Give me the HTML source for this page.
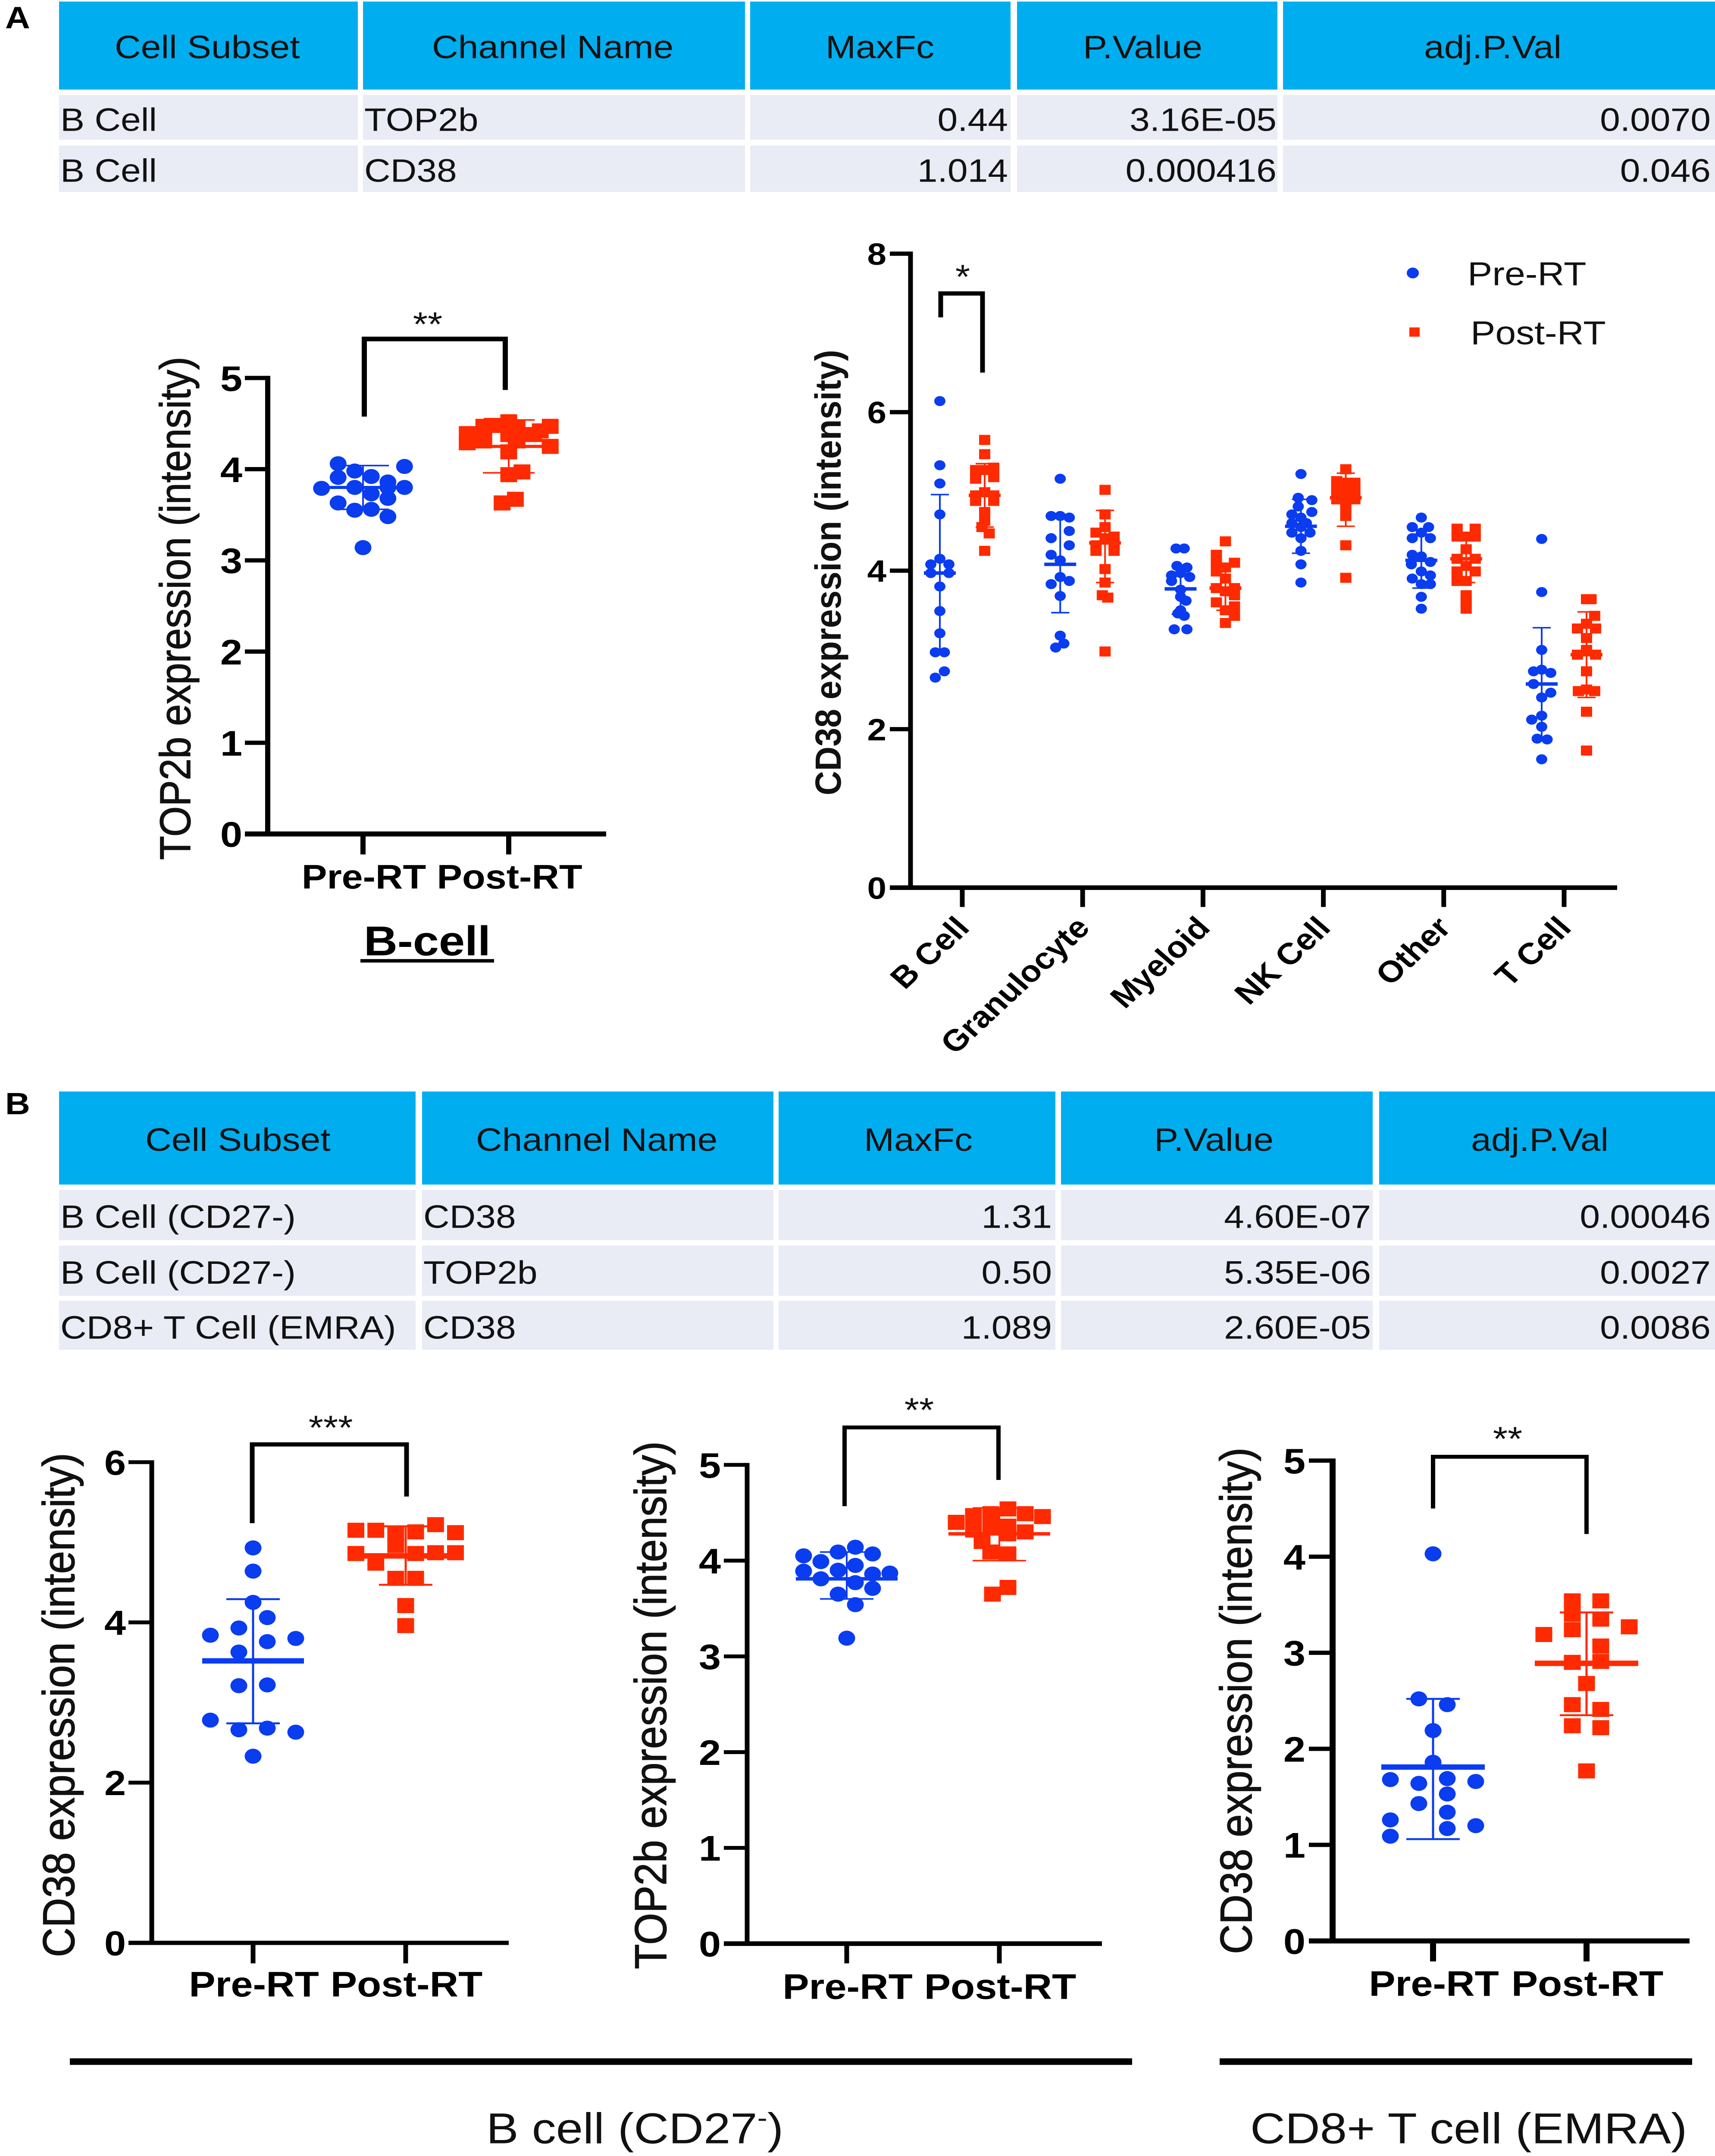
<!DOCTYPE html>
<html lang="en">
<head>
<meta charset="utf-8">
<title>CD38 and TOP2b expression before and after RT</title>
<style>
html,body{margin:0;padding:0;background:#fff;width:100%;height:100%;overflow:hidden;}
svg{display:block;position:fixed;left:0;top:0;width:100vw;height:100vh;overflow:hidden;font-family:"Liberation Sans",Arial,sans-serif;}
.hd{fill:#00aeef;}
.rw{fill:#e9ebf5;}
.tt{font-size:84px;fill:#111;}
.mid{text-anchor:middle;}
.end{text-anchor:end;}
.ytitle{font-size:100px;fill:#111;stroke:#111;stroke-width:1.5px;}
.star{font-size:88px;fill:#111;text-anchor:middle;}
.br{fill:none;stroke:#000;stroke-linejoin:miter;}
</style>
</head>
<body>
<svg id="figure" xmlns="http://www.w3.org/2000/svg" viewBox="0 0 3978 5584" preserveAspectRatio="none">
<rect width="3978" height="5584" fill="#fff"/>

<text x="12" y="73" font-size="80" font-weight="700">A</text>
<text x="12" y="2886" font-size="80" font-weight="700">B</text>

<g>
<g>
<rect class="hd" x="137" y="4" width="693" height="228"/><rect class="hd" x="842" y="4" width="886" height="228"/><rect class="hd" x="1740" y="4" width="604" height="228"/><rect class="hd" x="2359" y="4" width="604" height="228"/><rect class="hd" x="2976" y="4" width="1002" height="228"/>
<text class="tt" x="266" y="151">Cell Subset</text><text class="tt" x="1002" y="151">Channel Name</text><text class="tt" x="1915" y="151">MaxFc</text><text class="tt" x="2512" y="151">P.Value</text><text class="tt" x="3303" y="151">adj.P.Val</text>
</g>
<g>
<rect class="rw" x="137" y="246" width="693" height="116"/><rect class="rw" x="842" y="246" width="886" height="116"/><rect class="rw" x="1740" y="246" width="604" height="116"/><rect class="rw" x="2359" y="246" width="604" height="116"/><rect class="rw" x="2976" y="246" width="1002" height="116"/>
<text class="tt" x="140" y="339">B Cell</text><text class="tt" x="845" y="339">TOP2b</text><text class="tt end" x="2338" y="339">0.44</text><text class="tt end" x="2961" y="339">3.16E-05</text><text class="tt end" x="3968" y="339">0.0070</text>
</g>
<g>
<rect class="rw" x="137" y="377" width="693" height="120"/><rect class="rw" x="842" y="377" width="886" height="120"/><rect class="rw" x="1740" y="377" width="604" height="120"/><rect class="rw" x="2359" y="377" width="604" height="120"/><rect class="rw" x="2976" y="377" width="1002" height="120"/>
<text class="tt" x="140" y="471">B Cell</text><text class="tt" x="845" y="471">CD38</text><text class="tt end" x="2338" y="471">1.014</text><text class="tt end" x="2961" y="471">0.000416</text><text class="tt end" x="3968" y="471">0.046</text>
</g>
</g>

<g>
<g>
<rect class="hd" x="137" y="2827" width="827" height="241"/><rect class="hd" x="979" y="2827" width="815" height="241"/><rect class="hd" x="1806" y="2827" width="642" height="241"/><rect class="hd" x="2461" y="2827" width="723" height="241"/><rect class="hd" x="3199" y="2827" width="779" height="241"/>
<text class="tt" x="337" y="2981">Cell Subset</text><text class="tt" x="1104" y="2981">Channel Name</text><text class="tt" x="2004" y="2981">MaxFc</text><text class="tt" x="2677" y="2981">P.Value</text><text class="tt" x="3412" y="2981">adj.P.Val</text>
</g>
<g>
<rect class="rw" x="137" y="3082" width="827" height="130"/><rect class="rw" x="979" y="3082" width="815" height="130"/><rect class="rw" x="1806" y="3082" width="642" height="130"/><rect class="rw" x="2461" y="3082" width="723" height="130"/><rect class="rw" x="3199" y="3082" width="779" height="130"/>
<text class="tt" x="140" y="3180">B Cell (CD27-)</text><text class="tt" x="982" y="3180">CD38</text><text class="tt end" x="2440" y="3180">1.31</text><text class="tt end" x="3180" y="3180">4.60E-07</text><text class="tt end" x="3968" y="3180">0.00046</text>
</g>
<g>
<rect class="rw" x="137" y="3226" width="827" height="130"/><rect class="rw" x="979" y="3226" width="815" height="130"/><rect class="rw" x="1806" y="3226" width="642" height="130"/><rect class="rw" x="2461" y="3226" width="723" height="130"/><rect class="rw" x="3199" y="3226" width="779" height="130"/>
<text class="tt" x="140" y="3325">B Cell (CD27-)</text><text class="tt" x="982" y="3325">TOP2b</text><text class="tt end" x="2440" y="3325">0.50</text><text class="tt end" x="3180" y="3325">5.35E-06</text><text class="tt end" x="3968" y="3325">0.0027</text>
</g>
<g>
<rect class="rw" x="137" y="3369" width="827" height="127"/><rect class="rw" x="979" y="3369" width="815" height="127"/><rect class="rw" x="1806" y="3369" width="642" height="127"/><rect class="rw" x="2461" y="3369" width="723" height="127"/><rect class="rw" x="3199" y="3369" width="779" height="127"/>
<text class="tt" x="140" y="3467">CD8+ T Cell (EMRA)</text><text class="tt" x="982" y="3467">CD38</text><text class="tt end" x="2440" y="3467">1.089</text><text class="tt end" x="3180" y="3467">2.60E-05</text><text class="tt end" x="3968" y="3467">0.0086</text>
</g>
</g>

<text class="ytitle" transform="translate(441,2227) rotate(-90)" textLength="1303" lengthAdjust="spacingAndGlyphs">TOP2b expression (intensity)</text>
<path class="br" stroke-width="12" d="M845 1079V878H1172V1010"/>
<text class="star" x="992" y="870">**</text>
<text x="991" y="2474" font-size="108" font-weight="700" text-anchor="middle">B-cell</text>
<rect x="836" y="2484" width="310" height="9" fill="#000"/>

<text class="ytitle" style="font-size:84px;font-weight:700;stroke-width:0" transform="translate(1950,2060) rotate(-90)" textLength="1154" lengthAdjust="spacingAndGlyphs">CD38 expression (intensity)</text>
<path class="br" stroke-width="11" d="M2182 822V760H2279V965"/>
<text class="star" x="2233" y="747">*</text>
<g>
<circle cx="3277" cy="707" r="14" fill="#0a3cf0"/>
<text x="3404" y="739" font-size="86" fill="#111">Pre-RT</text>
<rect x="3269" y="848" width="24" height="24" fill="#ff2a00"/>
<text x="3411" y="892" font-size="86" fill="#111">Post-RT</text>
</g>

<text class="ytitle" style="font-size:104px" transform="translate(172,5069) rotate(-90)" textLength="1306" lengthAdjust="spacingAndGlyphs">CD38 expression (intensity)</text>
<path class="br" stroke-width="11" d="M585 3945V3741H943V3876"/>
<text class="star" x="767" y="3728">***</text>

<text class="ytitle" style="font-size:104px" transform="translate(1545,5100) rotate(-90)" textLength="1367" lengthAdjust="spacingAndGlyphs">TOP2b expression (intensity)</text>
<path class="br" stroke-width="10" d="M1959 3901V3697H2316V3833"/>
<text class="star" x="2132" y="3682">**</text>

<text class="ytitle" style="font-size:104px" transform="translate(2903,5061) rotate(-90)" textLength="1312" lengthAdjust="spacingAndGlyphs">CD38 expression (intensity)</text>
<path class="br" stroke-width="10" d="M3324 3907V3773H3680V3973"/>
<text class="star" x="3497" y="3757">**</text>

<rect x="162" y="5331" width="2464" height="17" fill="#000"/>
<rect x="2829" y="5331" width="1096" height="17" fill="#000"/>
<text x="1128" y="5551" font-size="112" fill="#111">B cell (CD27<tspan dy="-42" font-size="70">-</tspan><tspan dy="42">)</tspan></text>
<text x="2900" y="5551" font-size="112" fill="#111">CD8+ T cell (EMRA)</text>

<g id="charts"></g>
</svg>

<script>
/* ---------- Shared chart labels ---------- */
const prePostLabels = ['Pre-RT', 'Post-RT'];

/* ---------- Panel A, B-cell TOP2b ---------- */
const a1TickLabels = ['0', '1', '2', '3', '4', '5'];
const a1PreValues = [4.06, 3.98, 4.03, 3.91, 3.92, 3.86, 3.79, 3.80, 3.80, 3.80, 3.73, 3.68, 3.63, 3.55, 3.56, 3.48, 3.14];
const a1PreJitter = [-1.5, -0.5, 2.5, -1.5, 0.5, 1.5, -2.5, -0.5, 1.5, 2.5, 0.5, 1.5, -1.5, -0.5, 0.5, 1.5, 0];
const a1PreStats = [3.80, 3.56, 4.04];
const a1PostValues = [4.39, 4.29, 4.47, 4.31, 4.48, 4.52, 4.38, 4.19, 4.46, 4.31, 4.38, 4.47, 4.42, 3.94, 3.97, 3.63, 3.67, 4.25];
const a1PostJitter = [-2.5, -2.5, -1.5, -1.5, -1, 0, 0, 0, 0.5, 0.5, 1.5, 2.5, 1.9, 0, 0.8, -0.4, 0.4, 2.5];
const a1PostStats = [4.25, 3.96, 4.54];

/* ---------- Panel A, CD38 per cell type ---------- */
const a2Categories = ['B Cell', 'Granulocyte', 'Myeloid', 'NK Cell', 'Other', 'T Cell'];
const a2TickLabels = ['0', '2', '4', '6', '8'];

const a2BCellPre = [6.14, 5.33, 5.10, 4.71, 4.15, 4.08, 4.08, 3.97, 3.97, 3.80, 3.49, 3.21, 2.97, 2.97, 2.73, 2.65];
const a2BCellPreJitter = [0, 0, 0, 0, 0, -1, 1, -1, 1, 0, 0, 0, -0.5, 0.5, 0.5, -0.5];
const a2BCellPost = [5.65, 5.47, 5.30, 5.27, 5.27, 5.18, 5.16, 4.99, 4.95, 4.95, 4.88, 4.88, 4.74, 4.63, 4.55, 4.47, 4.25];
const a2BCellPostJitter = [0, 0, 1, -1, 0, 1, -1, 0, -1, 1, -1, 1, 0, 0, -0.3, 0.5, 0];

const a2GranPre = [5.16, 4.69, 4.69, 4.67, 4.50, 4.41, 4.32, 4.20, 4.13, 3.92, 3.83, 3.87, 3.68, 3.18, 3.08, 3.03];
const a2GranPreJitter = [0, -1, 0, 1, 1, -1, 1, -1, 0, 0, -1, 1, 0, 0, 0.4, -0.5];
const a2GranPost = [5.02, 4.71, 4.55, 4.48, 4.43, 4.41, 4.32, 4.32, 4.25, 4.25, 4.02, 3.85, 3.69, 3.66, 2.98];
const a2GranPostJitter = [0, 0, 0, -1, 1, 0, -1, 1, -1, 1, 0, 0, -0.3, 0.3, 0];

const a2MyeloidPre = [4.28, 4.28, 4.06, 4.04, 3.97, 3.94, 3.92, 3.87, 3.76, 3.67, 3.62, 3.50, 3.46, 3.43, 3.26, 3.26];
const a2MyeloidPreJitter = [-0.5, 0.4, -0.4, 0.7, 0, -1, 1, -1, 0, 0, 0.6, 0, -0.3, 0.4, -0.7, 0.7];
const a2MyeloidPost = [4.37, 4.20, 4.11, 4.10, 4.04, 3.99, 3.90, 3.78, 3.78, 3.74, 3.69, 3.60, 3.55, 3.50, 3.43, 3.34];
const a2MyeloidPostJitter = [0, -1, -1, 1, 0, -1, 0, -1, 1, 0, 1, -1, 1, 0, 1, 0];

const a2NkPre = [5.22, 4.92, 4.89, 4.81, 4.74, 4.71, 4.67, 4.60, 4.60, 4.55, 4.48, 4.48, 4.41, 4.25, 4.08, 3.85];
const a2NkPreJitter = [0, -0.3, 1.2, -0.3, 1.2, -1, 0, -1, 0.6, 0, -1, 1, 0, 0, 0, 0];
const a2NkPost = [5.28, 5.13, 5.11, 5.11, 5.02, 5.02, 5.02, 4.95, 4.95, 4.90, 4.90, 4.83, 4.78, 4.69, 4.32, 3.91];
const a2NkPostJitter = [0, -1, 1, 0, -1, 1, 0, 0, 1, -1, 1, 0, 0, 0, 0, 0];

const a2OtherPre = [4.67, 4.55, 4.55, 4.48, 4.41, 4.41, 4.20, 4.18, 4.11, 4.08, 3.99, 3.94, 3.90, 3.83, 3.83, 3.67, 3.52];
const a2OtherPreJitter = [0, -1, 0.8, 0, -1, 1, -1, 0, 1, -1.1, 0, 1, -1, 0, 1, 0, 0];
const a2OtherPost = [4.53, 4.53, 4.43, 4.43, 4.43, 4.27, 4.15, 4.15, 4.06, 3.99, 3.99, 3.87, 3.87, 3.69, 3.60, 3.52];
const a2OtherPostJitter = [-1, 1, -1, 1, 0, 0, -1, 1, 0, -1, 1, 0, -1, 0, 0, 0];

const a2TCellPre = [4.40, 3.73, 3.00, 2.73, 2.75, 2.71, 2.57, 2.46, 2.40, 2.17, 2.12, 2.03, 1.88, 1.87, 1.62];
const a2TCellPreJitter = [0, 0, 0, -0.9, 0, 1, -0.9, 1, 0, 0, -1.1, 0, -0.5, 0.6, 0];
const a2TCellPost = [3.64, 3.64, 3.43, 3.33, 3.27, 3.27, 3.15, 3.00, 2.94, 2.94, 2.73, 2.50, 2.48, 2.48, 2.22, 1.73];
const a2TCellPostJitter = [0, 0.5, 0.9, 0, -1, 1, 0, 0, 1, -1, 0, 0, -0.9, 0.9, 0, 0];

const a2PreMeans = [3.97, 4.08, 3.77, 4.56, 4.13, 2.57];
const a2PreLows = [2.98, 3.47, 3.45, 4.22, 3.78, 1.87];
const a2PreHighs = [4.96, 4.69, 4.07, 4.90, 4.46, 3.28];
const a2PostMeans = [4.95, 4.35, 3.78, 4.92, 4.15, 2.94];
const a2PostLows = [4.55, 3.85, 3.50, 4.56, 3.85, 2.40];
const a2PostHighs = [5.35, 4.76, 4.05, 5.23, 4.45, 3.48];

/* ---------- Panel B, CD27- B cell CD38 ---------- */
const b1TickLabels = ['0', '2', '4', '6'];
const b1PreValues = [4.93, 4.64, 4.25, 4.06, 3.93, 3.84, 3.80, 3.76, 3.63, 3.21, 3.22, 2.78, 2.66, 2.68, 2.63, 2.33];
const b1PreJitter = [0, 0, 0, 1, -1, -3, 3, 1, -1, -1, 1, -3, -1, 1, 3, 0];
const b1PreStats = [3.52, 2.74, 4.29];
const b1PostValues = [5.15, 5.15, 5.11, 5.13, 5.22, 5.12, 4.86, 4.96, 4.86, 4.87, 4.87, 4.74, 4.55, 4.55, 4.21, 3.96];
const b1PostJitter = [-3.5, -2.1, -0.7, 0.7, 2.1, 3.5, -3.5, -0.7, 0.7, 2.1, 3.5, -2.1, -0.7, 0.7, 0, 0];
const b1PostStats = [4.83, 4.47, 5.20];

/* ---------- Panel B, CD27- B cell TOP2b ---------- */
const b2TickLabels = ['0', '1', '2', '3', '4', '5'];
const b2PreValues = [4.05, 3.99, 4.09, 4.14, 4.07, 3.95, 3.89, 3.90, 3.86, 3.87, 3.81, 3.77, 3.71, 3.65, 3.54, 3.19];
const b2PreJitter = [-2.5, -1.5, -0.5, 0.5, 1.5, 0.5, -2.5, -0.5, 1.5, 2.5, -1.5, 0.5, 1.5, -0.5, 0.5, 0];
const b2PreStats = [3.81, 3.60, 4.09];
const b2PostValues = [4.40, 4.47, 4.32, 4.49, 4.34, 4.54, 4.36, 4.49, 4.30, 4.46, 4.20, 4.09, 4.07, 4.28, 3.72, 3.65];
const b2PostJitter = [-2.5, -1.5, -1.5, -0.5, -0.5, 0.5, 0.5, 1.5, 1.5, 2.5, -1, -0.5, 0.5, 0.5, 0.5, -0.4];
const b2PostStats = [4.28, 4.00, 4.55];

/* ---------- Panel B, CD8+ T cell EMRA CD38 ---------- */
const b3TickLabels = ['0', '1', '2', '3', '4', '5'];
const b3PreValues = [4.03, 2.52, 2.46, 2.19, 1.86, 1.68, 1.64, 1.69, 1.66, 1.53, 1.43, 1.34, 1.26, 1.17, 1.20, 1.09];
const b3PreJitter = [0, -1, 1, 0, 0, -3, -1, 1, 3, 1, -1, 1, -3, 1, 3, -3];
const b3PreStats = [1.81, 1.06, 2.52];
const b3PostValues = [3.54, 3.54, 3.40, 3.24, 3.35, 3.19, 3.27, 3.07, 2.91, 2.90, 2.68, 2.46, 2.41, 2.24, 2.22, 1.77];
const b3PostJitter = [-1, 1, -1, -1, 1, -3, 3, 1, 1, -1, 0, -1, 1, -1, 1, 0];
const b3PostStats = [2.89, 2.35, 3.42];

/* ---------- Drawing helpers ---------- */
const NS = 'http://www.w3.org/2000/svg';
const BLUE = '#0a3cf0';
const RED = '#ff2a00';
const chartsRoot = document.getElementById('charts');

function make(tag, attrs, parent) {
  const node = document.createElementNS(NS, tag);
  for (const key in attrs) node.setAttribute(key, attrs[key]);
  parent.appendChild(node);
  return node;
}

function yScale(c) {
  return function (v) { return c.y0 - (v / c.yMax) * (c.y0 - c.yTop); };
}

function xBand(c) {
  return function (i) { return c.x0 + i * c.dx; };
}

function drawSeries(parent, name, color, isSquare, values, jitter, stats, cx, y, s) {
  const g = make('g', {}, parent);
  
  
  values.forEach(function (v, i) {
    const px = cx + jitter[i] * s.step;
    const py = y(v);
    if (isSquare) {
      const mark = make('rect', { x: px - s.size / 2, y: py - s.size / 2, width: s.size, height: s.size, fill: color }, g);
      
      
    } else {
      const mark = make('circle', { cx: px, cy: py, r: s.size / 2, fill: color }, g);
      
      
    }
  });
  const mean = stats[0], low = stats[1], high = stats[2];
  const stem = make('line', { x1: cx, x2: cx, y1: y(low), y2: y(high), stroke: color, 'stroke-width': s.thin }, g);
  
  
  const capLow = make('line', { x1: cx - s.cap, x2: cx + s.cap, y1: y(low), y2: y(low), stroke: color, 'stroke-width': s.thin }, g);
  
  
  const capHigh = make('line', { x1: cx - s.cap, x2: cx + s.cap, y1: y(high), y2: y(high), stroke: color, 'stroke-width': s.thin }, g);
  
  
  const meanLine = make('line', { x1: cx - s.meanHalf, x2: cx + s.meanHalf, y1: y(mean), y2: y(mean), stroke: color, 'stroke-width': s.thick }, g);
  
  
}

function drawYAxis(parent, c, labels, y) {
  const g = make('g', {}, parent);
  
  
  const line = make('line', { x1: c.axisX, x2: c.axisX, y1: c.yTop - c.tw / 2, y2: c.y0, stroke: '#000', 'stroke-width': c.vw }, g);
  
  
  labels.forEach(function (label) {
    const v = parseFloat(label);
    const tick = make('line', { x1: c.xStart, x2: c.axisX, y1: y(v), y2: y(v), stroke: '#000', 'stroke-width': c.tw }, g);
    
    
    const text = make('text', { x: c.labelRight, y: y(v), dy: '.36em', 'font-size': c.tickFont, 'font-weight': 700, 'text-anchor': 'end', fill: '#000' }, g);
    text.textContent = label;
    
    
  });
}

function drawXAxis(parent, c, labels, x) {
  const g = make('g', {}, parent);
  
  
  const line = make('line', { x1: c.xStart, x2: c.xEnd, y1: c.y0, y2: c.y0, stroke: '#000', 'stroke-width': c.hw }, g);
  
  
  labels.forEach(function (label, i) {
    const tick = make('line', { x1: x(i), x2: x(i), y1: c.y0, y2: c.tickEnd, stroke: '#000', 'stroke-width': c.vw }, g);
    
    
    let text;
    if (c.rotated) {
      text = make('text', { transform: 'translate(' + x(i) + ',' + c.labelY + ') rotate(-46)', dy: '.36em', 'font-size': c.labelFont, 'font-weight': 700, 'text-anchor': 'end', fill: '#000' }, g);
    } else {
      text = make('text', { x: x(i) + 2, y: c.labelY, 'font-size': c.labelFont, 'font-weight': 700, 'text-anchor': 'middle', fill: '#000' }, g);
    }
    text.textContent = label;
    
    
  });
}

function drawPrePostChart(c, ticks, preV, preJ, preS, postV, postJ, postS) {
  const g = make('g', {}, chartsRoot);
  
  
  const y = yScale(c);
  const x = xBand(c);
  drawSeries(g, c.name + '-pre-rt-series', BLUE, false, preV, preJ, preS, x(0), y, c.style);
  drawSeries(g, c.name + '-post-rt-series', RED, true, postV, postJ, postS, x(1), y, c.style);
  drawYAxis(g, c, ticks, y);
  drawXAxis(g, c, prePostLabels, x);
}

/* ---------- Charts ---------- */
drawPrePostChart(
  { name: 'a1', axisX: 621, y0: 2160, yTop: 979, yMax: 5, xStart: 568, xEnd: 1406, x0: 842, dx: 338, tickEnd: 2213, vw: 12, hw: 13, tw: 11, labelRight: 562, tickFont: 92, labelFont: 88, labelY: 2301,
    style: { size: 39, step: 38.5, thin: 4, thick: 8, cap: 60, meanHalf: 96 } },
  a1TickLabels, a1PreValues, a1PreJitter, a1PreStats, a1PostValues, a1PostJitter, a1PostStats);

(function drawA2() {
  const c = { name: 'a2', axisX: 2112, y0: 2299, yTop: 657, yMax: 8, xStart: 2064, xEnd: 3751, x0: 2232, dx: 279.2, tickEnd: 2349, vw: 11, hw: 12, tw: 11, labelRight: 2056, tickFont: 80, labelFont: 78, labelY: 2387, rotated: true };
  const s = { size: 26, step: 21, thin: 4, thick: 9, cap: 21, meanHalf: 37 };
  const offset = 52;
  const g = make('g', {}, chartsRoot);
  
  
  const y = yScale(c);
  const x = xBand(c);
  const pre = [[a2BCellPre, a2BCellPreJitter], [a2GranPre, a2GranPreJitter], [a2MyeloidPre, a2MyeloidPreJitter], [a2NkPre, a2NkPreJitter], [a2OtherPre, a2OtherPreJitter], [a2TCellPre, a2TCellPreJitter]];
  const post = [[a2BCellPost, a2BCellPostJitter], [a2GranPost, a2GranPostJitter], [a2MyeloidPost, a2MyeloidPostJitter], [a2NkPost, a2NkPostJitter], [a2OtherPost, a2OtherPostJitter], [a2TCellPost, a2TCellPostJitter]];
  a2Categories.forEach(function (cat, i) {
    const slug = cat.toLowerCase().replace(' ', '-');
    drawSeries(g, slug + '-pre-rt-series', BLUE, false, pre[i][0], pre[i][1], [a2PreMeans[i], a2PreLows[i], a2PreHighs[i]], x(i) - offset, y, s);
    drawSeries(g, slug + '-post-rt-series', RED, true, post[i][0], post[i][1], [a2PostMeans[i], a2PostLows[i], a2PostHighs[i]], x(i) + offset, y, s);
  });
  drawYAxis(g, c, a2TickLabels, y);
  drawXAxis(g, c, a2Categories, x);
})();

drawPrePostChart(
  { name: 'b1', axisX: 352, y0: 5032, yTop: 3787, yMax: 6, xStart: 298, xEnd: 1180, x0: 587, dx: 354, tickEnd: 5085, vw: 11, hw: 11, tw: 10, labelRight: 292, tickFont: 90, labelFont: 92, labelY: 5171,
    style: { size: 39, step: 33, thin: 5, thick: 14, cap: 62, meanHalf: 118 } },
  b1TickLabels, b1PreValues, b1PreJitter, b1PreStats, b1PostValues, b1PostJitter, b1PostStats);

drawPrePostChart(
  { name: 'b2', axisX: 1733, y0: 5034, yTop: 3794, yMax: 5, xStart: 1679, xEnd: 2556, x0: 1964, dx: 354, tickEnd: 5085, vw: 11, hw: 12, tw: 10, labelRight: 1672, tickFont: 92, labelFont: 92, labelY: 5177,
    style: { size: 39, step: 40, thin: 4, thick: 9, cap: 62, meanHalf: 118 } },
  b2TickLabels, b2PreValues, b2PreJitter, b2PreStats, b2PostValues, b2PostJitter, b2PostStats);

drawPrePostChart(
  { name: 'b3', axisX: 3091, y0: 5027, yTop: 3783, yMax: 5, xStart: 3036, xEnd: 3919, x0: 3324, dx: 356, tickEnd: 5080, vw: 14, hw: 13, tw: 11, labelRight: 3028, tickFont: 92, labelFont: 92, labelY: 5169,
    style: { size: 39, step: 33, thin: 5, thick: 14, cap: 62, meanHalf: 120 } },
  b3TickLabels, b3PreValues, b3PreJitter, b3PreStats, b3PostValues, b3PostJitter, b3PostStats);
</script>
</body>
</html>
